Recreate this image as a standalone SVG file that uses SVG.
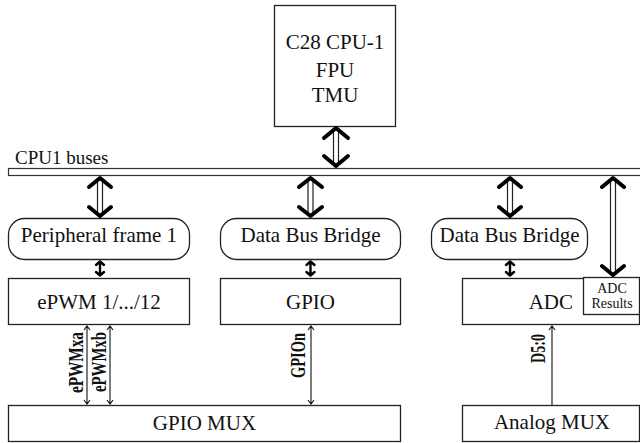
<svg xmlns="http://www.w3.org/2000/svg" width="640" height="443" viewBox="0 0 640 443">
<style>
.box{fill:#fff;stroke:#222;stroke-width:1.3}
text{font-family:"Liberation Serif","Times New Roman",Times,"DejaVu Serif","Noto Serif",serif}
.t{font-size:21px;fill:#111;text-anchor:middle}
.s{font-size:14px;fill:#111;text-anchor:middle}
.lb{font-size:20px;font-weight:bold;fill:#111;text-anchor:middle}
.shaft{stroke:#222;stroke-width:1.2;fill:none}
.chev{stroke:#000;stroke-width:4;fill:none;stroke-linecap:round;stroke-linejoin:round}
.thin{stroke:#111;stroke-width:1.1;fill:none}
.small{stroke:#000;stroke-width:2.4;fill:none;stroke-linecap:round;stroke-linejoin:round}
</style>
<g id="cpu">
<rect class="box" x="274.5" y="5.5" width="121" height="121"/>
<text class="t" x="335" y="49">C28 CPU-1</text>
<text class="t" x="335" y="77">FPU</text>
<text class="t" x="335" y="102">TMU</text>
</g>
<g id="bus">
<rect x="8.5" y="168.5" width="640" height="7" fill="#fff" stroke="#333" stroke-width="1.2"/>
<text x="15" y="164" font-size="19" fill="#111">CPU1 buses</text>
</g>
<g id="pf1">
<rect class="box" x="8.5" y="218.5" width="181" height="41" rx="16"/>
<text class="t" x="99" y="242">Peripheral frame 1</text>
</g>
<g id="dbb1">
<rect class="box" x="220.5" y="218.5" width="180" height="41" rx="16"/>
<text class="t" x="310.5" y="242">Data Bus Bridge</text>
</g>
<g id="dbb2">
<rect class="box" x="431.5" y="218.5" width="156" height="41" rx="16"/>
<text class="t" x="509.5" y="242">Data Bus Bridge</text>
</g>
<g id="epwm">
<rect class="box" x="8.5" y="278.5" width="181" height="46"/>
<text class="t" x="99" y="309">ePWM 1/.../12</text>
</g>
<g id="gpio">
<rect class="box" x="220.5" y="278.5" width="180" height="46"/>
<text class="t" x="310.5" y="309">GPIO</text>
</g>
<g id="adc">
<rect class="box" x="462.5" y="278.5" width="177" height="46"/>
<text class="t" x="573" y="309" style="text-anchor:end">ADC</text>
</g>
<g id="adcres">
<rect class="box" x="583.5" y="277.5" width="56" height="37"/>
<text class="s" x="612" y="293">ADC</text>
<text class="s" x="612" y="308">Results</text>
</g>
<g id="gpiomux">
<rect class="box" x="8.5" y="405.5" width="392" height="36"/>
<text class="t" x="204.5" y="430">GPIO MUX</text>
</g>
<g id="amux">
<rect class="box" x="462.5" y="405.5" width="177" height="36"/>
<text class="t" x="552" y="429">Analog MUX</text>
</g>
<g id="connectors">
<path class="shaft" d="M333.5 130V165M338.5 130V165"/>
<path class="chev" d="M324 138L336 128L348 138M324 156L336 166L348 156"/>
<path class="shaft" d="M97.5 180V215M102.5 180V215"/>
<path class="chev" d="M89 187L100 178L111 187M89 207L100 216L111 207"/>
<path class="shaft" d="M308 180V215M313 180V215"/>
<path class="chev" d="M299 187L310.5 178L322 187M299 207L310.5 216L322 207"/>
<path class="shaft" d="M507.5 180V215M512.5 180V215"/>
<path class="chev" d="M499 187L510 178L521 187M499 207L510 216L521 207"/>
<path class="shaft" d="M610.5 180V274M615.5 180V274"/>
<path class="chev" d="M602 187L613 178L624 187M602 266L613 275L624 266"/>
<path class="small" d="M100 262V275M96 265L100 261.5L104 265M96 272L100 275.5L104 272"/>
<path class="small" d="M310.5 262V275M306.5 265L310.5 261.5L314.5 265M306.5 272L310.5 275.5L314.5 272"/>
<path class="small" d="M510 262V275M506 265L510 261.5L514 265M506 272L510 275.5L514 272"/>
<path class="thin" d="M87 326V404M84 330L87 326L90 330M84 400L87 404L90 400"/>
<path class="thin" d="M110 326V404M107 330L110 326L113 330M107 400L110 404L113 400"/>
<path class="thin" d="M311 326V404M308 330L311 326L314 330M308 400L311 404L314 400" stroke="#555"/>
<path class="thin" d="M552 326V405M549 330L552 326L555 330"/>
<text class="lb" transform="translate(83 362.5) rotate(-90)" textLength="61" lengthAdjust="spacingAndGlyphs">ePWMxa</text>
<text class="lb" transform="translate(106 362) rotate(-90)" textLength="60" lengthAdjust="spacingAndGlyphs">ePWMxb</text>
<text class="lb" transform="translate(305 355.5) rotate(-90)" textLength="45" lengthAdjust="spacingAndGlyphs">GPIOn</text>
<text class="lb" transform="translate(545 348.5) rotate(-90)" textLength="29" lengthAdjust="spacingAndGlyphs">D5:0</text>
</g>
</svg>
